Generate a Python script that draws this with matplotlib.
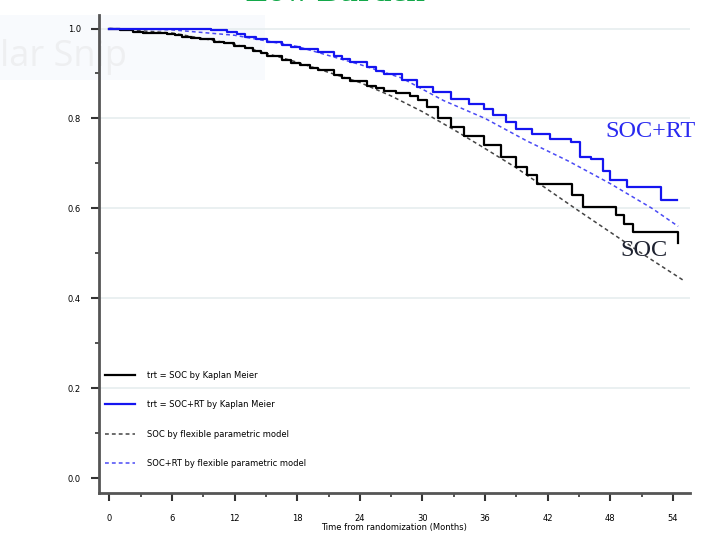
import matplotlib
matplotlib.use("Agg")
import matplotlib.pyplot as plt
from matplotlib.patches import Rectangle

# Kaplan-Meier estimates (months, survival)
km_soc_t = [0, 1, 2.3, 3.2, 4, 5.5, 6.3, 7, 7.8, 8.7, 10, 11, 11.9, 13, 13.8, 14.5, 15.1,
            16.5, 17.4, 18.3, 19.2, 20, 21.5, 22.3, 23.1, 24.7, 25.5, 26.3, 27.5, 28.8,
            29.6, 30.4, 31.5, 32.7, 34, 35.9, 37.5, 39.0, 40, 41.0, 43.2, 44.3, 45.4,
            47.7, 48.5, 49.3, 50.2, 54.5, 54.5]
km_soc_s = [1.0, 0.996, 0.992, 0.991, 0.99, 0.987, 0.985, 0.982, 0.98, 0.977, 0.971, 0.967,
            0.962, 0.957, 0.951, 0.946, 0.94, 0.93, 0.924, 0.918, 0.912, 0.907, 0.896,
            0.89, 0.884, 0.873, 0.868, 0.862, 0.856, 0.851, 0.84, 0.825, 0.80, 0.781,
            0.762, 0.74, 0.715, 0.692, 0.675, 0.655, 0.655, 0.63, 0.603, 0.603, 0.585,
            0.566, 0.547, 0.547, 0.522]

km_rt_t = [0, 5, 9.7, 11.3, 12.2, 13, 14, 15.1, 16.5, 17.4, 18.3, 20, 21.5, 22.3, 23.1,
           24.7, 25.5, 26.3, 28, 29.5, 31, 32.7, 34.5, 35.9, 36.8, 38, 39.0, 40.5, 42.2,
           44.2, 45.1, 46.1, 47.3, 48.0, 49.6, 52.4, 52.9, 54.4]
km_rt_s = [1.0, 0.999, 0.996, 0.992, 0.987, 0.982, 0.976, 0.970, 0.963, 0.959, 0.955,
           0.948, 0.94, 0.932, 0.925, 0.914, 0.906, 0.899, 0.885, 0.870, 0.858, 0.844,
           0.832, 0.822, 0.807, 0.793, 0.777, 0.765, 0.755, 0.747, 0.714, 0.710, 0.684,
           0.662, 0.647, 0.647, 0.618, 0.618]

# flexible parametric model fits
fp_t = [0, 6, 12, 18, 24, 27, 30, 33, 36, 39, 42, 45, 48, 51, 55]
fp_soc_s = [1.0, 0.99, 0.965, 0.925, 0.88, 0.85, 0.815, 0.775, 0.733, 0.69, 0.642, 0.594,
            0.547, 0.50, 0.44]
fp_rt_t = [0, 6, 12, 18, 24, 28, 32, 36, 40, 44, 48, 52, 54.5]
fp_rt_s = [1.0, 0.997, 0.985, 0.96, 0.92, 0.89, 0.84, 0.80, 0.75, 0.705, 0.655, 0.60, 0.56]

legend_labels = ["trt = SOC by Kaplan Meier", "trt = SOC+RT by Kaplan Meier",
                 "SOC by flexible parametric model", "SOC+RT by flexible parametric model"]

small = ["Liberation Sans Narrow", "DejaVu Sans"]

fig = plt.figure(figsize=(7.04, 5.37), dpi=100)
ax = fig.add_axes([0.1406, 0.082, 0.839, 0.89])
ax.patch.set_alpha(0)

# faint snip overlay in the corner
fig.patches.append(Rectangle((0, 1 - 80 / 537), 265 / 704, 65 / 537, transform=fig.transFigure,
                             facecolor="#f8fafd", edgecolor="none", zorder=-5))
fig.text(0.0, 1 - 66 / 537, "lar Snip", fontsize=26, color="#eeeff1", family="Open Sans",
         zorder=-4)
fig.text(0.476, 1 - 1 / 537, "Low Burden", fontsize=24, color="#13a84a", weight="bold",
         family="Liberation Serif", ha="center", va="baseline")

for y in [0.2, 0.4, 0.6, 0.8, 1.0]:
    ax.axhline(y, color="#e6edef", lw=1.2, zorder=0)

l1, = ax.step(km_soc_t, km_soc_s, where="post", color="black", lw=1.6, zorder=3)
l2, = ax.step(km_rt_t, km_rt_s, where="post", color="#1515f0", lw=1.6, zorder=3)
l3, = ax.plot(fp_t, fp_soc_s, color="#444444", lw=1.1, ls=(0, (2.5, 2)), zorder=2)
l4, = ax.plot(fp_rt_t, fp_rt_s, color="#4a4af5", lw=1.1, ls=(0, (2.5, 2)), zorder=2)

ax.text(47.5, 0.772, "SOC+RT", color="#2a2af0", fontsize=17.5, family="Liberation Serif",
        va="center")
ax.text(49.0, 0.507, "SOC", color="#1e2230", fontsize=17.5, family="Liberation Serif",
        va="center")

leg = ax.legend([l1, l2, l3, l4], legend_labels, loc="lower left",
                bbox_to_anchor=(0.005, 0.045), frameon=False, handlelength=3.6,
                handletextpad=1.4, labelspacing=2.45, borderaxespad=0,
                prop={"family": small, "size": 6})

ax.set_xlim(-1, 55.6)
ax.set_ylim(-0.033, 1.03)
ax.set_xticks(range(0, 55, 6))
ax.set_xticks(range(3, 55, 6), minor=True)
ax.set_yticks([0.0, 0.2, 0.4, 0.6, 0.8, 1.0])
ax.set_yticks([0.1, 0.3, 0.5, 0.7, 0.9], minor=True)
ax.set_yticklabels(["0.0", "0.2", "0.4", "0.6", "0.8", "1.0"])
ax.tick_params(which="major", length=6, width=1.5, color="#333333", labelsize=6,
               pad=7)
ax.tick_params(axis="x", which="major", pad=9)
ax.tick_params(which="minor", length=3, width=1.2, color="#333333")
for lab in ax.get_xticklabels() + ax.get_yticklabels():
    lab.set_family(small)
ax.set_xlabel("Time from randomization (Months)", fontsize=6, family=small, labelpad=0)

for side in ["top", "right"]:
    ax.spines[side].set_visible(False)
for side in ["left", "bottom"]:
    ax.spines[side].set_linewidth(2)
    ax.spines[side].set_color("#555555")

fig.savefig("out.png", dpi=100)
